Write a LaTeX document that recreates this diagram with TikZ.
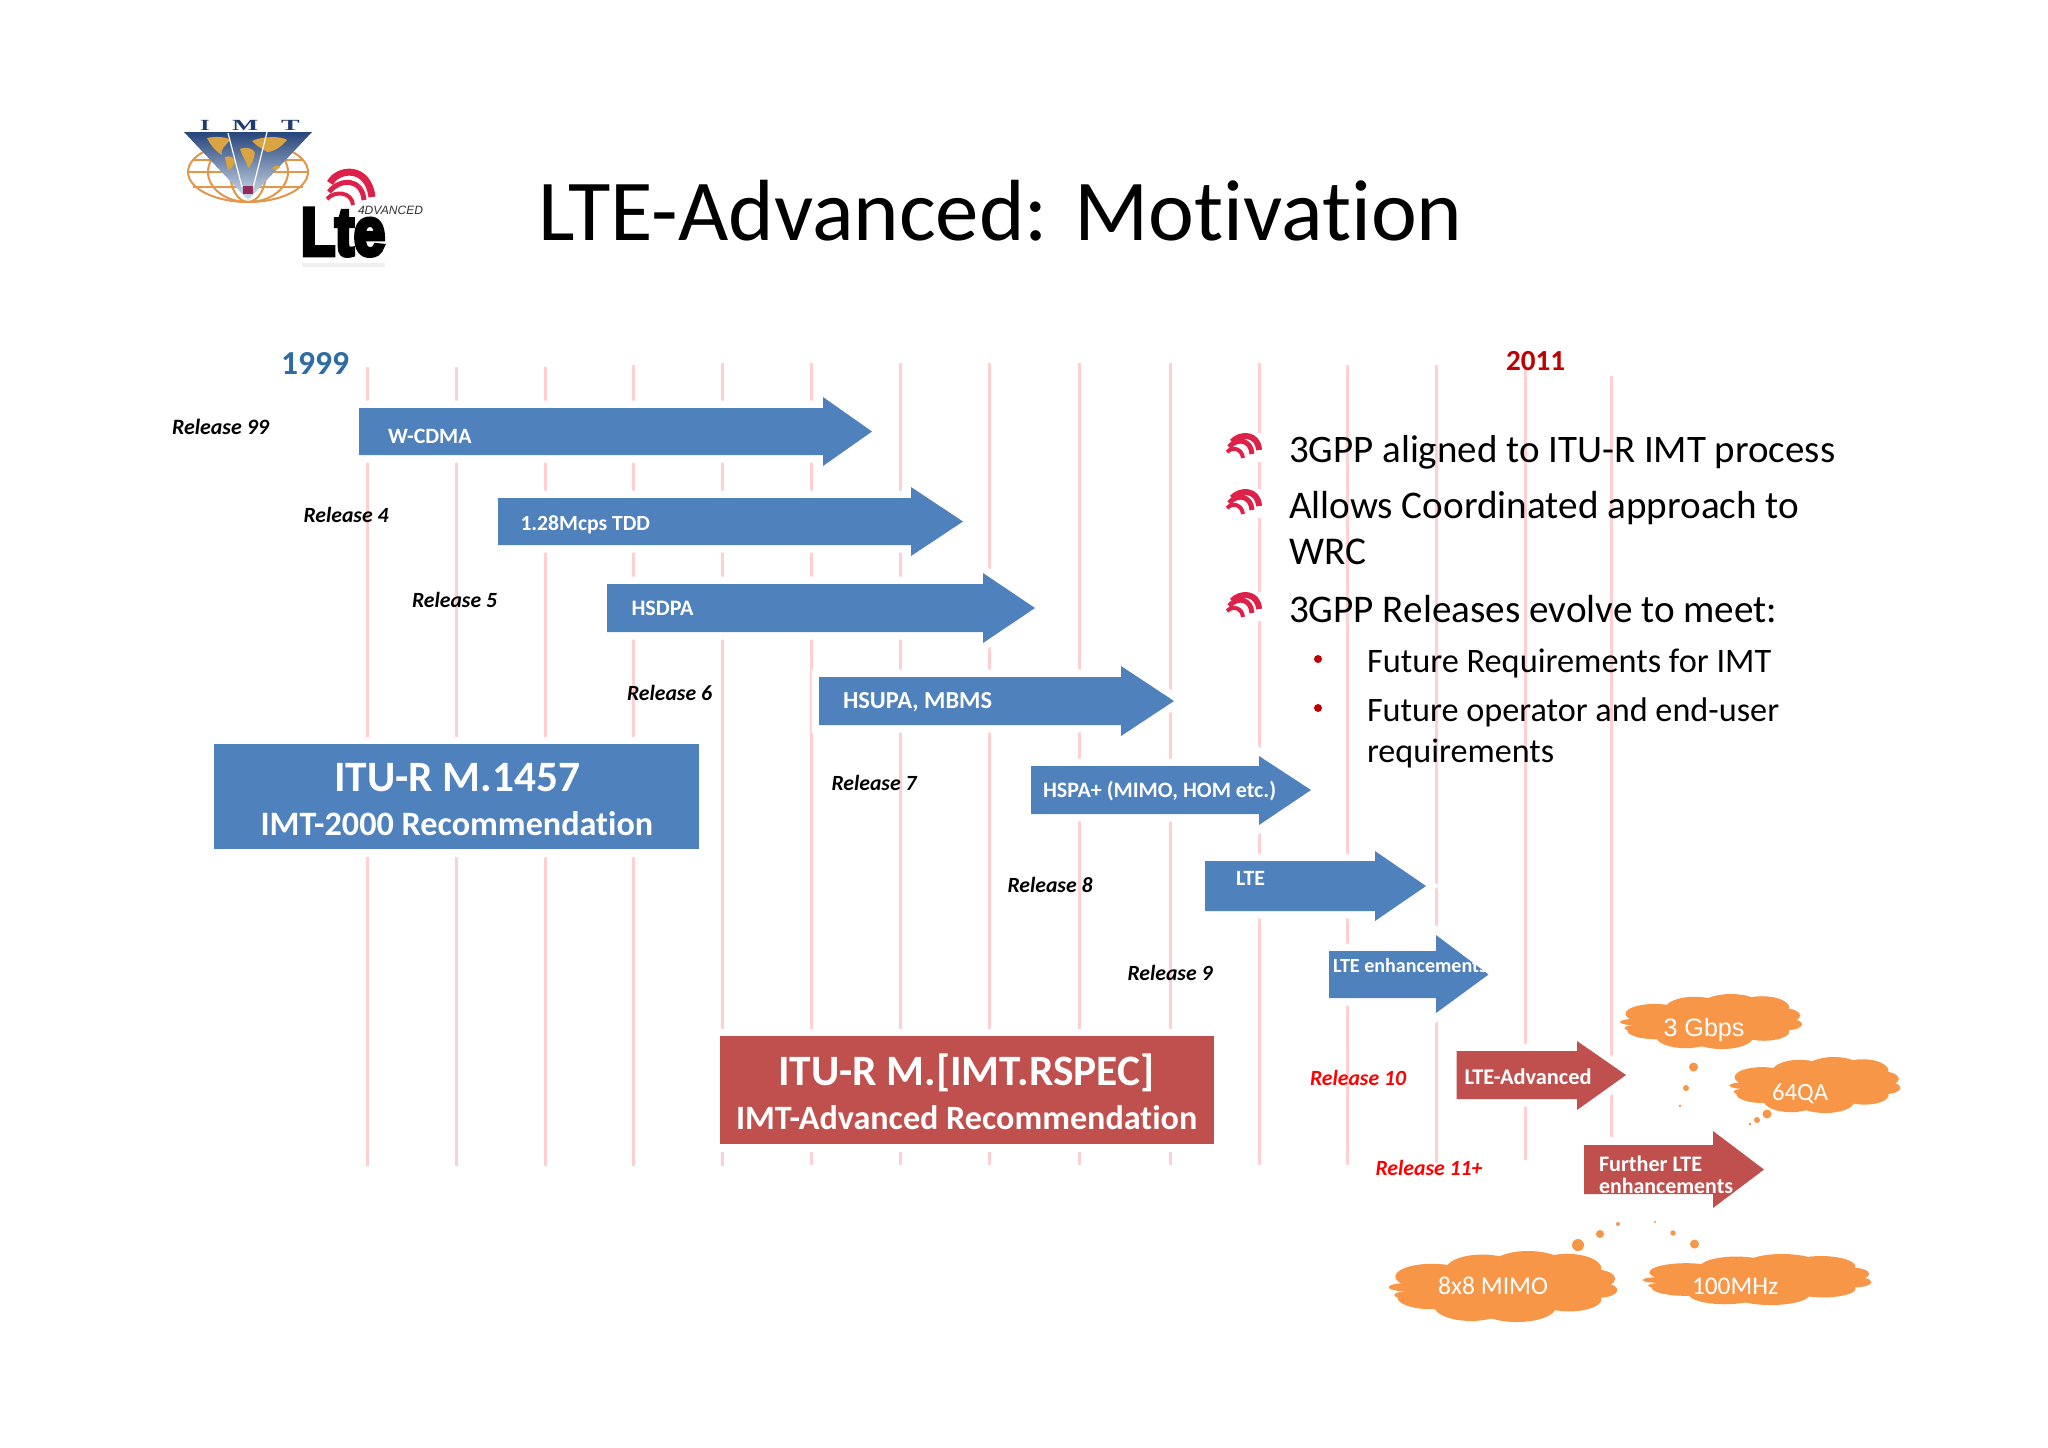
\documentclass[tikz,border=0pt]{standalone}
\usepackage{fontspec}
\setmainfont{Carlito}[Ligatures=NoCommon]
\newfontfamily\arialf{Liberation Sans}
\newfontfamily\lteheavy[FakeBold=7]{Liberation Sans Bold}
\newfontfamily\logoserif{Liberation Serif}
\definecolor{arrowblue}{HTML}{4F81BD}
\definecolor{arrowred}{HTML}{C0504D}
\definecolor{gridpink}{HTML}{FFCFD2}
\definecolor{cloudorange}{HTML}{F79646}
\definecolor{yearblue}{HTML}{2E6CA4}
\definecolor{yearred}{HTML}{C00000}
\definecolor{iconred}{HTML}{DE2148}
\definecolor{imtnavy}{HTML}{1F3A6E}
\definecolor{globeline}{HTML}{E2964A}
\definecolor{landtan}{HTML}{D9A441}
\newlength\fitlen
\newcommand{\fittext}[3]{%
  \settowidth\fitlen{\fontsize{10pt}{12pt}\selectfont #1#3}%
  \pgfmathsetmacro\fitsize{2.8453*#2/\fitlen*1}%
  \fontsize{\fitsize pt}{\fitsize pt}\selectfont #1#3}
\newcommand{\lbl}[7][black]{% colour, name, x, baseline y, width, font, text
  \node[textlabel,text=#1] (#2) at (#3,#4) {\fittext{#6}{#5}{#7}};}
\newcommand{\band}[8]{% fill x0 top bot headx tip headtop headbot
  \path[arrowhalo] (#2,#3) -- (#5,#3) -- (#5,#7) -- (#6,{(#3+#4)/2}) -- (#5,#8) -- (#5,#4) -- (#2,#4) -- cycle;
  \fill[#1] (#2,#3) -- (#5,#3) -- (#5,#7) -- (#6,{(#3+#4)/2}) -- (#5,#8) -- (#5,#4) -- (#2,#4) -- cycle;}
\newcommand{\puff}[4]{% cloud centre + half-sizes
  \begin{scope}[shift={(#1,#2)},x=#3*0.01cm,y=-#4*0.01cm]
  \fill[cloudorange] (0,0) ellipse (0.85 and 0.72);
  \foreach \a/\b/\c/\d in {-0.82/0.02/0.18/0.12, -0.62/-0.28/0.32/0.36, -0.18/-0.48/0.32/0.42, 0.22/-0.6/0.32/0.4, 0.56/-0.5/0.3/0.42, 0.8/-0.22/0.18/0.26, 0.82/0.1/0.18/0.22, 0.58/0.36/0.28/0.34, 0.12/0.58/0.34/0.42, -0.28/0.55/0.32/0.42, -0.62/0.32/0.3/0.32, -0.85/0.24/0.1/0.1}
    \fill[cloudorange] (\a,\b) ellipse (\c*1 and \d*1);
  \end{scope}}
\newcommand{\wave}[3]{% bullet icon: name, x, y (top left)
  \begin{scope}[shift={(#2,#3)}]
  \fill[white] (-1,-3) rectangle (36,26);
  \coordinate (#1) at (0,0);
  \draw[iconred,line width=0.04cm] (1,16) .. controls (7,10) and (16,13) .. (17,22);
  \draw[iconred,line width=0.05cm] (3,11) .. controls (12,1) and (25,4) .. (26,18);
  \draw[iconred,line width=0.06cm] (6,6) .. controls (14,-3) and (32,-3) .. (33,14);
  \end{scope}}
\tikzset{
  x=0.01cm,y=-0.01cm,
  gridline/.style={gridpink,line width=0.03cm},
  arrowhalo/.style={draw=white,line width=0.15cm,line join=miter,miter limit=3},
  textlabel/.style={anchor=base west,inner sep=0pt,outer sep=0pt},
  dot/.style={fill=cloudorange}
}
\begin{document}
\begin{tikzpicture}
\useasboundingbox[fill=white] (0,0) rectangle (2048,1447);
% ---------- grid lines
\foreach \gx/\gt/\gb in {367/367/1166,456/367/1166,545/367/1166,633/365/1166,722/363/1166,811/363/1165,900/363/1165,989/363/1165,1079/363/1165,1170/363/1165,1259/363/1165,1347/365/1165,1436/365/1163,1525.5/367/1160,1611/376/1137}
  \draw[gridline] (\gx,\gt) -- (\gx,\gb);
% ---------- timeline arrows
\band{arrowblue}{359}{408}{455}{823}{872}{397}{466}
\band{arrowblue}{498}{498}{545}{911}{963}{487}{556}
\band{arrowblue}{607}{584}{632}{983}{1035}{573}{643}
\band{arrowblue}{819}{677}{725}{1121}{1174}{666}{736}
\band{arrowblue}{1031}{766}{814}{1259}{1311}{756}{825}
\band{arrowblue}{1205}{861}{911}{1375}{1426}{851}{921}
\band{arrowblue}{1329}{951}{998}{1436}{1488.5}{935}{1013}
\band{arrowred}{1456.5}{1051}{1099}{1577}{1626}{1041}{1110}
\band{arrowred}{1584}{1145}{1194}{1713}{1764}{1131}{1208}
% ---------- recommendation boxes
\path[arrowhalo] (214,744) rectangle (699,849);
\fill[arrowblue] (214,744) rectangle (699,849);
\path[arrowhalo] (720,1036) rectangle (1214,1144);
\fill[arrowred] (720,1036) rectangle (1214,1144);
% ---------- logo IMT
\draw[globeline,line width=0.02cm] (248,172) ellipse (60 and 30);
\draw[globeline,line width=0.02cm] (248,172) ellipse (40 and 30);
\draw[globeline,line width=0.02cm] (248,172) ellipse (18 and 30);
\draw[globeline,line width=0.02cm] (188,172) -- (308,172);
\draw[globeline,line width=0.02cm] (193,160) -- (303,160);
\draw[globeline,line width=0.02cm] (193,187) -- (303,187);
\shade[top color=imtnavy!85!arrowblue,bottom color=white!75!arrowblue] (184,132) -- (312,132) -- (248,200) -- cycle;
\fill[landtan] (207,138) .. controls (215,136) and (228,137) .. (230,140) .. controls (226,146) and (220,148) .. (222,155) .. controls (214,150) and (210,144) .. cycle;
\fill[landtan] (225,157) .. controls (230,155) and (235,158) .. (235,162) .. controls (233,167) and (230,170) .. (228,170) .. controls (227,165) and (225,161) .. cycle;
\fill[landtan] (252,141) .. controls (262,136) and (282,136) .. (287,140) .. controls (282,146) and (274,152) .. (267,152) .. controls (262,148) and (256,146) .. cycle;
\fill[landtan] (240,149) .. controls (247,146) and (254,149) .. (255,153) .. controls (254,160) and (250,167) .. (248,168) .. controls (246,160) and (242,156) .. cycle;
\fill[landtan] (272,168) .. controls (275,165) and (280,165) .. (280,167) .. controls (278,170) and (274,171) .. cycle;
\draw[white,line width=0.012cm] (228,133) -- (242,187);
\draw[white,line width=0.012cm] (267,132) -- (253,188);
\fill[iconred!60!imtnavy] (243,186) rectangle (253,194);
\node[textlabel,text=imtnavy] (imti) at (200,130) {\scalebox{1.6}[1]{\fontsize{4.4pt}{5pt}\selectfont\logoserif\bfseries I}};
\node[textlabel,text=imtnavy] (imtm) at (232,130) {\scalebox{1.8}[1]{\fontsize{4.4pt}{5pt}\selectfont\logoserif\bfseries M}};
\node[textlabel,text=imtnavy] (imtt) at (281,130) {\scalebox{1.8}[1]{\fontsize{4.4pt}{5pt}\selectfont\logoserif\bfseries T}};
% ---------- logo Lte
\fill[black!6] (302,263) rectangle (385,267);
\node[textlabel] (ltetxt) at (301,255) {\scalebox{1}[1.2]{\fittext{\lteheavy}{84}{Lte}}};
\draw[iconred,line width=0.07cm] (330,183) .. controls (338,168) and (368,165) .. (372,197);
\draw[iconred,line width=0.05cm] (329,192) .. controls (340,178) and (362,178) .. (364,200);
\draw[iconred,line width=0.04cm] (327,199) .. controls (335,190) and (352,192) .. (353,205);
\node[textlabel,text=black!80] (lte4) at (358,214) {\fittext{\arialf\itshape}{65}{4DVANCED}};
% ---------- title
\lbl{title}{538}{240}{924}{}{LTE-Advanced: Motivation}
% ---------- years
\lbl[yearblue]{y1999}{281}{374}{68}{\bfseries}{1999}
\lbl[yearred]{y2011}{1506}{370}{59}{\bfseries}{2011}
% ---------- release labels
\lbl{r99}{172}{434}{97}{\bfseries\itshape}{Release 99}
\lbl{r4}{303.5}{522}{85}{\bfseries\itshape}{Release 4}
\lbl{r5}{412}{607}{85}{\bfseries\itshape}{Release 5}
\lbl{r6}{627}{700}{85}{\bfseries\itshape}{Release 6}
\lbl{r7}{831.5}{790}{85}{\bfseries\itshape}{Release 7}
\lbl{r8}{1007.5}{892}{85}{\bfseries\itshape}{Release 8}
\lbl{r9}{1127.5}{980}{85}{\bfseries\itshape}{Release 9}
\lbl[red]{r10}{1310}{1085}{96}{\bfseries\itshape}{Release 10}
\lbl[red]{r11}{1375.5}{1175}{107}{\bfseries\itshape}{Release 11+}
% ---------- arrow labels
\lbl[white]{awcdma}{388}{443}{83.5}{\bfseries}{W-CDMA}
\lbl[white]{atdd}{520.5}{530}{129.5}{\bfseries}{1.28Mcps TDD}
\lbl[white]{ahsdpa}{631.5}{615}{62}{\bfseries}{HSDPA}
\lbl[white]{ahsupa}{843}{708}{149}{\bfseries}{HSUPA, MBMS}
\lbl[white]{ahspa}{1043}{797.5}{233}{\bfseries}{HSPA+ (MIMO, HOM etc.)}
\lbl[white]{alte}{1236}{885}{29}{\bfseries}{LTE}
\lbl[white]{aenh}{1333}{972.5}{154}{\bfseries}{LTE enhancements}
\lbl[white]{aadv}{1464.5}{1084}{127}{\bfseries}{LTE-Advanced}
\lbl[white]{afur}{1599}{1171}{103}{\bfseries}{Further LTE}
\lbl[white]{aenh2}{1599}{1193}{134}{\bfseries}{enhancements}
% ---------- box labels
\lbl[white]{b1a}{334}{791}{246}{\bfseries}{ITU-R M.1457}
\lbl[white]{b1b}{260.5}{835}{392.5}{\bfseries}{IMT-2000 Recommendation}
\lbl[white]{b2a}{778}{1085}{376}{\bfseries}{ITU-R M.[IMT.RSPEC]}
\lbl[white]{b2b}{736}{1129}{461}{\bfseries}{IMT-Advanced Recommendation}
% ---------- bullets
\wave{w1}{1226}{436}
\wave{w2}{1226}{492}
\wave{w3}{1226}{595}
\lbl{t1}{1289}{462}{546}{}{3GPP aligned to ITU-R IMT process}
\lbl{t2}{1289}{518}{510}{}{Allows Coordinated approach to}
\lbl{t2b}{1289}{564}{77}{}{WRC}
\lbl{t3}{1289}{622}{488}{}{3GPP Releases evolve to meet:}
\fill[yearred] (1318,659) circle (4);
\fill[yearred] (1318,708) circle (4);
\lbl{s1}{1367}{672}{404}{}{Future Requirements for IMT}
\lbl{s2}{1367}{721}{412}{}{Future operator and end-user}
\lbl{s2b}{1367}{762}{187}{}{requirements}
% ---------- clouds
\puff{1711}{1021.5}{91}{27.5}
\puff{1815}{1085}{85.5}{28}
\puff{1503}{1286.5}{114.5}{35.5}
\puff{1757}{1279.5}{114.5}{25.5}
\foreach \dx/\dy/\dr in {1693.5/1067/4.5,1686/1088/3,1680/1106/1.3,1767/1114/4.5,1757/1120/3,1750/1124/1.5,1578/1245/6,1600/1234/4,1618/1224/2,1655/1222/1.2,1673/1233/2.7,1694.5/1244/4.5}
  \fill[dot] (\dx,\dy) circle (\dr);
\lbl[white]{c3g}{1663.5}{1036}{81}{\arialf}{3 Gbps}
\lbl[white]{c64}{1772}{1100}{56}{}{64QA}
\lbl[white]{c88}{1438}{1294}{110}{}{8x8 MIMO}
\lbl[white]{c100}{1692}{1294}{86}{}{100MHz}
\end{tikzpicture}
\end{document}
